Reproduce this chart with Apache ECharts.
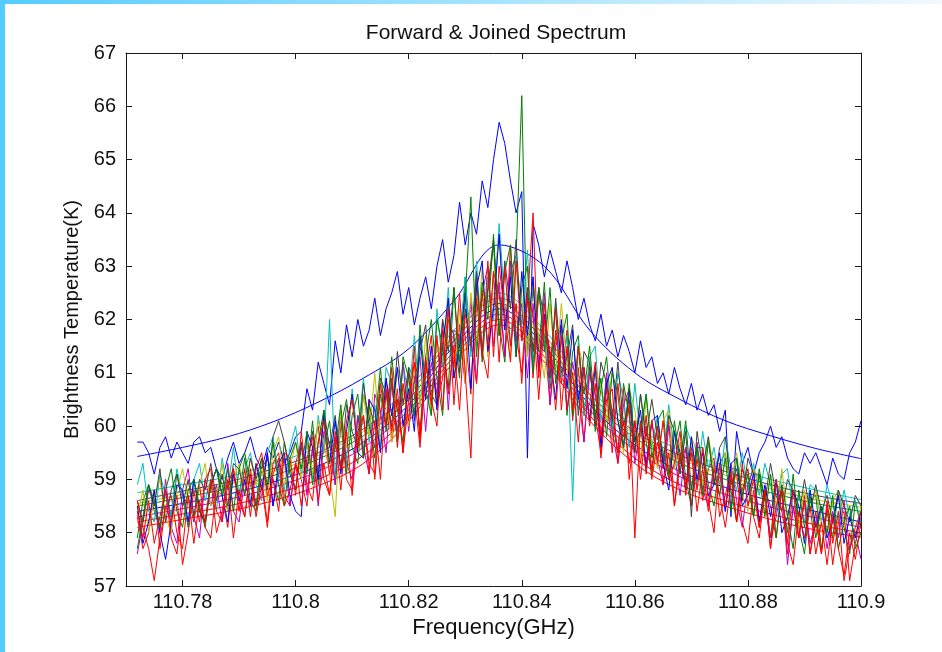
<!DOCTYPE html>
<html>
<head>
<meta charset="utf-8">
<script src="https://cdn.jsdelivr.net/npm/echarts@6/dist/echarts.min.js"></script>
<style>
html,body{margin:0;padding:0;background:#fff;}
#chart{width:942px;height:652px;}
</style>
</head>
<body>
<div id="chart"></div>
<script>
// Frequency grid (GHz) of the measured spectra
var freq = [
110.772,110.773,110.774,110.775,110.776,110.777,110.778,110.779,110.780,110.781,
110.782,110.783,110.784,110.785,110.786,110.787,110.788,110.789,110.790,110.791,
110.792,110.793,110.794,110.795,110.796,110.797,110.798,110.799,110.800,110.801,
110.802,110.803,110.804,110.805,110.806,110.807,110.808,110.809,110.810,110.811,
110.812,110.813,110.814,110.815,110.816,110.817,110.818,110.819,110.820,110.821,
110.822,110.823,110.824,110.825,110.826,110.827,110.828,110.829,110.830,110.831,
110.832,110.833,110.834,110.835,110.836,110.837,110.838,110.839,110.840,110.841,
110.842,110.843,110.844,110.845,110.846,110.847,110.848,110.849,110.850,110.851,
110.852,110.853,110.854,110.855,110.856,110.857,110.858,110.859,110.860,110.861,
110.862,110.863,110.864,110.865,110.866,110.867,110.868,110.869,110.870,110.871,
110.872,110.873,110.874,110.875,110.876,110.877,110.878,110.879,110.880,110.881,
110.882,110.883,110.884,110.885,110.886,110.887,110.888,110.889,110.890,110.891,
110.892,110.893,110.894,110.895,110.896,110.897,110.898,110.899,110.900];

// Frequency grid of the fitted curves
var fitFreq = [110.772,110.780,110.788,110.796,110.804,110.812,110.820,110.828,110.836,
110.844,110.852,110.860,110.868,110.876,110.884,110.892,110.900];

// Measured spectra (K)
var specBlueHigh = [
59.7,59.7,59.5,59.1,59.6,59.8,59.4,59.7,59.5,59.3,
59.7,59.8,59.5,59.6,59.2,59.0,59.4,59.7,59.3,59.5,
59.8,59.4,59.2,59.6,59.4,59.7,59.3,59.5,59.8,59.9,
60.7,60.3,61.2,60.8,60.4,61.6,61.0,61.9,61.3,62.0,
61.5,61.8,62.4,61.7,62.2,62.5,62.9,62.1,62.6,61.9,
62.4,62.8,62.2,63.0,63.5,62.7,63.2,64.2,63.4,64.0,
63.6,64.6,64.1,65.0,65.7,65.3,64.6,64.0,64.4,59.4,
63.8,63.4,62.8,63.3,62.9,62.5,63.1,62.6,62.0,62.4,
61.9,61.6,62.1,61.5,61.8,61.3,61.7,61.4,61.0,61.6,
61.1,61.3,60.8,61.0,60.6,61.1,60.7,60.4,60.8,60.3,
60.6,60.2,60.4,59.9,60.3,58.3,59.9,59.3,59.6,59.1,
59.5,59.7,60.0,59.6,59.8,59.4,59.2,59.1,59.5,59.3,
59.5,59.2,58.9,59.4,59.1,59.0,59.5,59.7,60.1];
var specGreen1 = [
57.9,58.6,58.9,58.4,58.1,58.8,58.3,59.1,58.7,58.1,
59.0,58.5,58.1,58.9,59.2,58.9,58.4,59.1,58.7,59.4,
58.6,58.4,59.2,59.4,59.0,58.6,59.7,59.2,58.8,59.6,
59.1,60.1,58.9,59.6,60.1,58.9,60.0,60.5,59.6,59.3,
60.6,60.2,59.4,60.6,60.0,61.3,60.3,59.7,61.1,60.9,
59.9,61.3,62.0,60.9,60.2,62.0,61.7,60.9,62.8,61.4,
62.8,61.2,62.5,63.4,61.9,61.2,62.9,63.2,66.2,61.3,
62.6,61.4,62.7,60.7,61.7,61.9,60.2,61.4,61.7,60.2,
61.2,59.9,60.7,61.3,60.1,59.5,60.8,60.2,59.5,60.6,
59.7,59.1,60.1,60.3,59.1,59.6,60.1,59.0,58.5,59.6,
59.6,58.9,58.5,59.3,59.5,58.8,58.2,59.2,58.9,58.3,
59.2,58.6,57.9,58.9,58.7,58.0,59.1,58.1,57.6,58.6,
58.7,57.7,58.4,57.9,58.8,58.1,57.6,58.6,58.1];
var specRed1 = [
58.3,57.7,58.0,58.8,57.7,58.5,58.7,58.0,57.7,58.7,
58.2,58.9,58.1,57.9,58.8,58.7,58.1,59.2,58.6,58.3,
59.2,58.5,59.0,58.2,59.3,59.5,58.7,58.5,59.3,59.0,
58.5,59.6,60.0,59.0,58.7,59.6,60.1,59.0,58.8,60.2,
59.4,60.5,59.0,60.2,60.9,59.7,60.5,59.5,61.0,60.6,
59.6,61.0,61.7,60.4,60.9,62.3,60.4,61.9,61.7,60.6,
62.8,61.4,60.9,62.9,62.5,61.3,63.4,61.7,61.0,62.5,
60.9,62.5,61.7,60.4,61.8,60.8,61.8,60.1,61.1,59.7,
61.1,60.2,59.5,60.8,60.3,59.5,60.7,59.0,60.1,59.3,
60.2,59.0,59.7,59.2,60.1,58.5,59.3,59.6,58.5,59.4,
58.6,59.2,59.4,58.3,58.7,59.2,58.2,58.8,59.2,58.3,
57.9,58.8,58.5,57.9,58.8,57.6,58.5,57.9,58.7,57.6,
58.4,57.6,58.5,57.4,58.2,58.4,57.1,57.8,58.3];
var specCyan = [
58.9,59.3,58.4,58.2,59.1,58.7,58.3,59.2,58.7,58.2,
59.0,59.3,58.6,59.0,58.4,59.4,58.8,59.6,58.7,59.2,
59.5,58.9,58.6,59.5,59.8,59.1,58.8,59.6,60.0,59.1,
59.7,59.0,60.2,59.5,62.0,59.1,60.3,59.4,60.7,59.8,
60.9,59.7,60.4,59.6,61.1,60.8,59.7,61.2,60.5,61.7,
60.4,61.3,60.2,62.2,61.1,62.6,60.9,61.6,62.8,61.3,
63.1,61.3,62.8,62.0,63.8,62.3,61.5,63.2,61.9,63.3,
61.2,62.6,61.6,60.8,62.3,60.9,61.7,58.6,61.6,60.2,
61.3,61.5,60.1,60.9,59.8,61.0,60.5,59.6,60.8,59.8,
60.6,59.6,60.2,59.3,60.4,59.5,59.1,60.0,59.7,58.9,
59.9,59.2,59.6,58.9,59.8,59.2,58.8,59.5,58.8,59.3,
58.7,59.3,58.9,58.4,59.1,59.2,58.4,58.7,58.2,58.9,
58.8,58.2,58.9,58.5,58.2,58.8,58.3,58.6,58.2];
var specMagenta = [
57.6,58.2,58.8,58.6,58.0,59.0,58.1,57.8,58.8,59.2,
58.3,57.9,59.0,58.5,58.9,58.2,59.3,58.4,58.2,59.0,
59.1,58.5,58.7,59.5,58.5,59.1,59.4,58.5,59.3,59.7,
58.7,59.6,58.5,59.9,59.7,58.9,60.3,59.3,59.0,60.2,
59.6,59.1,60.6,60.3,59.5,60.8,59.9,61.2,59.9,60.9,
61.3,59.9,61.2,60.6,62.0,60.3,61.8,61.7,60.8,62.4,
60.8,62.5,63.0,61.5,62.7,61.3,63.1,61.6,62.3,60.9,
62.3,61.1,62.5,60.4,61.5,61.9,60.3,61.2,60.6,59.7,
61.0,60.6,59.7,61.0,59.9,59.3,60.4,60.7,59.3,60.0,
59.3,60.1,59.4,58.9,60.0,59.5,58.7,59.6,58.8,59.7,
58.8,58.5,59.3,59.1,58.4,59.3,58.6,58.1,58.9,59.2,
58.2,58.8,57.9,58.3,58.9,57.4,58.5,57.9,58.6,57.8,
58.2,58.5,57.7,58.4,57.9,58.6,57.7,58.0,57.5];
var specYellow = [
58.3,58.8,58.0,58.7,59.0,58.3,58.0,58.8,59.2,58.6,
58.3,58.9,59.3,58.5,58.7,59.3,58.4,59.0,59.3,58.7,
59.4,58.9,59.2,58.6,59.5,59.8,58.9,59.2,59.7,59.0,
59.7,59.1,60.1,59.7,59.1,58.3,60.3,59.6,60.6,59.5,
60.6,59.8,61.0,59.7,60.6,59.7,61.1,60.7,60.0,61.2,
60.4,61.7,60.2,61.6,61.2,62.4,60.9,62.2,60.8,62.5,
61.5,63.0,61.3,62.8,63.5,62.0,61.3,63.0,62.4,61.3,
62.8,61.6,60.9,62.3,61.0,62.3,61.1,60.3,61.5,61.1,
60.1,61.1,60.7,60.1,61.1,60.1,59.5,60.7,60.3,59.4,
60.5,59.7,59.2,60.1,60.3,59.2,59.7,58.8,59.8,59.5,
58.9,59.8,59.2,58.7,59.5,58.9,59.5,58.7,58.4,59.2,
58.9,58.4,59.1,58.5,59.2,58.3,58.8,58.1,58.8,58.4,
58.8,58.2,57.9,58.6,58.8,58.1,58.3,57.9,58.5];
var specGray = [
58.6,58.2,58.9,58.5,59.2,58.2,58.8,59.1,58.5,59.0,
58.3,59.0,58.8,59.3,58.6,59.1,58.5,59.3,59.2,58.7,
59.4,59.0,59.4,58.8,59.8,60.1,59.7,59.1,58.8,59.7,
59.2,59.9,59.1,60.3,59.6,60.2,59.2,60.4,59.9,59.6,
60.8,60.0,59.6,60.9,60.6,60.0,61.4,60.4,61.1,60.1,
61.4,61.9,60.6,60.4,62.0,61.4,62.6,61.0,62.2,61.5,
62.9,61.4,62.6,63.5,61.7,63.1,62.2,63.5,61.6,62.6,
61.4,62.6,62.0,60.9,62.4,61.0,61.3,61.9,60.2,61.4,
61.2,60.0,61.2,60.8,60.1,61.2,60.0,60.5,59.5,60.6,
59.8,60.5,59.8,59.3,60.2,59.9,59.1,59.9,58.3,59.9,
59.2,59.8,58.9,59.6,59.8,58.9,59.2,58.6,59.4,59.1,
59.1,58.6,59.3,58.7,58.4,59.0,58.8,58.3,59.0,58.4,
58.9,58.4,58.7,58.2,58.8,58.5,58.2,58.7,58.5];
var specBlue2 = [
58.5,57.8,58.2,58.8,58.0,57.5,58.2,58.9,58.8,58.2,
59.0,58.4,58.2,58.9,59.2,58.7,58.2,59.1,58.6,59.0,
58.5,59.3,58.8,59.5,58.5,59.3,59.5,58.7,58.4,58.3,
59.9,59.6,59.0,60.2,59.3,60.1,59.1,59.9,60.6,59.5,
59.4,60.5,60.3,59.5,60.9,60.2,61.1,60.0,60.7,59.9,
61.7,60.5,61.5,60.3,61.5,62.4,60.9,61.5,62.5,60.7,
62.6,63.1,61.4,62.2,63.6,61.8,62.8,61.3,62.9,61.7,
62.8,61.0,62.1,61.3,60.5,62.0,60.7,61.8,60.5,61.1,
60.1,61.1,59.6,60.8,61.1,60.1,59.6,60.7,59.7,60.3,
59.2,60.1,60.2,59.3,58.8,59.9,59.5,58.8,59.8,59.0,
59.5,58.7,58.9,59.5,58.4,59.3,59.4,58.5,58.7,59.1,
58.2,58.9,58.3,59.0,58.0,58.3,58.8,58.5,57.8,58.8,
58.1,58.5,57.9,58.2,58.7,57.8,58.3,57.9,58.4];
var specGreen2 = [
57.7,58.3,58.9,58.6,58.1,58.8,59.2,58.4,58.1,58.8,
59.0,58.4,58.2,58.9,59.2,58.7,59.2,58.4,59.2,59.5,
58.9,58.5,59.4,58.9,59.7,58.9,58.5,59.4,59.7,59.2,
59.9,58.9,59.7,60.3,59.3,59.6,60.4,59.1,60.2,60.6,
59.4,60.4,60.0,61.1,59.9,60.9,59.7,61.3,60.9,60.2,
61.9,60.7,60.2,62.0,61.5,60.7,62.6,61.2,62.4,64.3,
61.3,62.7,62.0,63.6,61.7,62.9,63.4,61.3,62.6,63.0,
61.0,62.6,61.4,62.6,60.8,61.6,62.1,60.2,61.5,60.6,
61.5,60.2,60.9,59.8,61.0,60.6,59.6,60.8,59.7,59.9,
60.6,59.4,60.0,59.5,59.0,60.1,59.3,60.1,58.8,59.6,
58.7,59.7,59.0,58.7,59.4,58.4,59.4,58.7,59.1,58.3,
59.1,58.3,59.1,57.9,58.9,58.3,57.7,58.8,58.1,58.7,
57.9,58.5,58.0,58.7,57.7,58.2,58.5,57.7,58.0];
var specRed3 = [
58.6,58.1,57.7,57.1,57.9,58.5,58.2,58.7,57.4,58.0,
58.8,58.2,59.0,59.2,58.4,58.2,58.9,59.2,58.4,59.2,
58.3,59.2,59.5,58.7,59.0,58.4,59.5,59.4,58.7,59.9,
58.9,58.6,59.7,60.1,59.1,59.8,58.8,60.1,60.5,59.6,
60.2,59.3,59.1,60.8,60.0,61.1,59.6,60.8,60.1,61.5,
59.7,61.3,60.4,61.7,60.3,62.2,61.1,62.5,61.0,59.4,
62.4,61.3,63.1,61.3,63.0,62.1,61.2,63.1,61.6,62.3,
64.0,60.9,62.3,61.1,62.2,60.3,61.5,60.3,61.5,60.3,
60.4,61.2,59.8,60.7,59.5,60.8,59.8,60.4,57.9,60.1,
59.1,60.1,59.3,60.1,59.0,59.3,59.9,58.7,59.6,58.8,
59.6,58.6,58.0,59.3,58.5,59.1,58.2,59.3,58.5,59.0,
58.1,58.8,57.7,59.0,58.4,57.8,58.8,57.9,58.6,57.6,
58.2,57.6,58.6,57.8,58.4,57.1,57.7,58.1,58.4];
var specRed2 = [
58.4,57.9,58.6,57.8,58.3,58.8,57.9,57.6,58.5,58.7,
57.8,58.6,58.2,59.0,58.0,58.4,59.0,57.9,58.8,58.3,
59.1,58.3,58.9,58.1,59.1,59.4,58.5,58.8,59.3,58.5,
59.4,59.8,58.6,59.3,58.7,59.9,59.2,59.9,58.7,59.9,
60.2,59.1,60.1,59.0,60.7,59.9,60.7,59.5,60.5,61.2,
59.8,61.2,60.5,60.0,61.8,60.6,61.5,60.3,62.1,61.6,
60.8,62.5,61.5,62.9,61.2,63.0,61.5,62.3,60.8,62.4,
62.1,60.5,62.0,61.4,60.3,61.7,60.3,61.0,59.7,61.1,
60.0,60.8,59.4,60.5,60.7,59.3,60.1,59.3,60.1,59.0,
60.0,59.2,60.0,58.9,59.5,58.5,59.5,58.9,59.5,58.4,
59.2,58.4,59.2,58.7,58.1,58.9,59.1,58.2,57.8,58.8,
58.1,58.8,57.7,58.5,58.8,57.8,57.4,58.4,57.9,58.5,
57.6,58.2,57.4,58.3,57.7,57.2,58.0,57.5,58.2];

// Fitted (joined) curves (K)
var fitBlueHigh = [59.43,59.6,59.8,60.08,60.45,60.9,61.45,62.35,63.4,63.0,61.8,61.0,60.5,60.1,59.82,59.58,59.39];
var fitCyan     = [58.75,58.9,59.05,59.3,59.6,60.05,60.7,61.8,62.5,61.8,60.7,60.0,59.55,59.25,59.0,58.8,58.62];
var fitGray     = [58.6,58.78,58.95,59.2,59.5,59.95,60.6,61.7,62.4,61.7,60.6,59.9,59.45,59.15,58.9,58.7,58.55];
var fitRed1     = [58.2,58.35,58.5,58.72,59.0,59.45,60.2,61.3,62.0,61.3,60.2,59.4,58.9,58.6,58.35,58.15,58.0];
var fitBlue     = [58.4,58.55,58.72,58.95,59.25,59.7,60.4,61.5,62.2,61.5,60.4,59.65,59.15,58.85,58.6,58.4,58.2];
var fitGreen    = [58.5,58.66,58.83,59.07,59.38,59.82,60.5,61.6,62.3,61.6,60.5,59.78,59.3,59.0,58.75,58.55,58.4];
var fitMagenta  = [58.3,58.45,58.62,58.85,59.15,59.6,60.3,61.4,62.1,61.4,60.3,59.55,59.05,58.72,58.48,58.28,58.1];
var fitYellow   = [58.55,58.72,58.9,59.15,59.45,59.9,60.6,61.7,62.4,61.7,60.6,59.85,59.38,59.08,58.82,58.62,58.48];
var fitRed2     = [58.1,58.25,58.4,58.6,58.88,59.3,60.1,61.2,61.9,61.2,60.1,59.3,58.8,58.5,58.25,58.05,57.92];

// Tick labels
var xTicks = [110.78, 110.80, 110.82, 110.84, 110.86, 110.88, 110.90];
var xTickLabels = ['110.78','110.8','110.82','110.84','110.86','110.88','110.9'];

var C = {b:'#0000FF', g:'#008000', r:'#FF0000', c:'#00BFBF', m:'#BF00BF', y:'#BFBF00', k:'#404040'};

function pairs(xs, ys){ var out=[]; for(var i=0;i<ys.length;i++){ out.push([xs[i], ys[i]]); } return out; }
function lineSeries(xs, ys, color, smooth){
  return {type:'line', data:pairs(xs, ys), showSymbol:false, symbol:'none', smooth: smooth ? 0.35 : false,
    lineStyle:{color:color, width:1}, itemStyle:{color:color}, emphasis:{disabled:true}, silent:true, z:2};
}

var fits = [
  [fitBlueHigh, C.b],[fitCyan, C.c],[fitGray, C.k],[fitRed1, C.r],[fitBlue, C.b],
  [fitGreen, C.g],[fitMagenta, C.m],[fitYellow, C.y],[fitRed2, C.r]
];
var specs = [
  [specBlueHigh, C.b],[specGreen1, C.g],[specRed1, C.r],[specCyan, C.c],[specMagenta, C.m],
  [specYellow, C.y],[specGray, C.k],[specBlue2, C.b],[specGreen2, C.g],[specRed3, C.r],[specRed2, C.r]
];

var series = [];
fits.forEach(function(f){ series.push(lineSeries(fitFreq, f[0], f[1], true)); });
specs.forEach(function(s){ series.push(lineSeries(freq, s[0], s[1], false)); });

var FONT = '"Liberation Sans", Arial, Helvetica, sans-serif';
var AX = '#1a1a1a';

function labelFmt(v){
  for (var i=0;i<xTicks.length;i++){ if (Math.abs(xTicks[i]-v) < 1e-6) return xTickLabels[i]; }
  return '';
}

var chart = echarts.init(document.getElementById('chart'), null, {renderer:'canvas'});
chart.setOption({
  animation:false,
  backgroundColor:'#ffffff',
  title:{text:'Forward & Joined Spectrum', left:491, top:18, textAlign:'center',
    textStyle:{fontFamily:FONT, fontSize:21, fontWeight:'normal', color:'#111'}},
  grid:{left:126, right:81, top:53, bottom:66, containLabel:false},
  xAxis:[
    {type:'value', position:'bottom', min:110.77, max:110.9, scale:true,
     name:'Frequency(GHz)', nameLocation:'middle', nameGap:31,
     nameTextStyle:{fontFamily:FONT, fontSize:22, color:'#111'},
     axisLine:{show:true, onZero:false, lineStyle:{color:AX, width:1}},
     axisTick:{show:true, inside:true, length:6, customValues:xTicks, lineStyle:{color:AX}},
     axisLabel:{show:true, margin:6, customValues:xTicks, formatter:labelFmt,
       fontFamily:FONT, fontSize:20, color:'#111'},
     splitLine:{show:false}},
    {type:'value', position:'top', min:110.77, max:110.9, scale:true,
     axisLine:{show:true, onZero:false, lineStyle:{color:AX, width:1}},
     axisTick:{show:true, inside:true, length:6, customValues:xTicks, lineStyle:{color:AX}},
     axisLabel:{show:false}, splitLine:{show:false}}
  ],
  yAxis:[
    {type:'value', position:'left', min:57, max:67, interval:1,
     name:'Brightness Temperature(K)', nameLocation:'middle', nameGap:36,
     nameTextStyle:{fontFamily:FONT, fontSize:20, color:'#111'},
     axisLine:{show:true, onZero:false, lineStyle:{color:AX, width:1}},
     axisTick:{show:true, inside:true, length:6, lineStyle:{color:AX}},
     axisLabel:{show:true, margin:10, fontFamily:FONT, fontSize:20, color:'#111'},
     splitLine:{show:false}},
    {type:'value', position:'right', min:57, max:67, interval:1,
     axisLine:{show:true, onZero:false, lineStyle:{color:AX, width:1}},
     axisTick:{show:true, inside:true, length:6, lineStyle:{color:AX}},
     axisLabel:{show:false}, splitLine:{show:false}}
  ],
  graphic:[
    {type:'rect', left:0, top:0, z:100, silent:true, shape:{width:942, height:4},
     style:{fill:new echarts.graphic.LinearGradient(0,0,1,0,[{offset:0,color:'#55CCFF'},{offset:1,color:'#F2F9FF'}])}},
    {type:'rect', left:0, top:0, z:100, silent:true, shape:{width:5, height:652}, style:{fill:'#55CCFF'}}
  ],
  series:series
});
</script>
</body>
</html>
